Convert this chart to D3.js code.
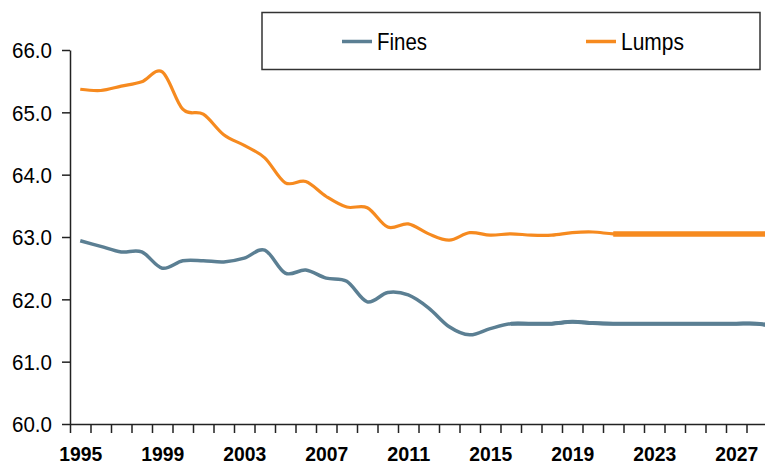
<!DOCTYPE html>
<html>
<head>
<meta charset="utf-8">
<script src="https://cdn.jsdelivr.net/npm/d3@7"></script>
<style>
  body { margin: 0; background: #fff; }
  svg { display: block; overflow: hidden; }
  text { font-family: "Liberation Sans", Arial, sans-serif; fill: #000; }
</style>
</head>
<body>
<svg id="chart" width="765" height="466"></svg>
<script>
// values
var years = d3.range(1995, 2030);
var fines = [62.94, 62.85, 62.76, 62.76, 62.50, 62.62, 62.62, 62.60, 62.66, 62.79,
             62.42, 62.47, 62.34, 62.29, 61.96, 62.11, 62.07, 61.86, 61.56, 61.43,
             61.53, 61.61, 61.61, 61.61, 61.64, 61.62, 61.61, 61.61, 61.61, 61.61,
             61.61, 61.61, 61.61, 61.61, 61.56];
var lumps = [65.37, 65.35, 65.42, 65.49, 65.65, 65.05, 64.97, 64.64, 64.47, 64.27,
             63.87, 63.89, 63.65, 63.48, 63.47, 63.16, 63.21, 63.05, 62.95, 63.07,
             63.03, 63.05, 63.03, 63.03, 63.07, 63.08, 63.05, 63.05, 63.05, 63.05,
             63.05, 63.05, 63.05, 63.05, 63.05];
var yTicks = [60, 61, 62, 63, 64, 65, 66];
var xLabels = [1995, 1999, 2003, 2007, 2011, 2015, 2019, 2023, 2027];
var seriesNames = ['Fines', 'Lumps'];
var fineForecastFrom = 2016;
var lumpForecastFrom = 2021;

var blue = '#5b7f93', orange = '#f68a1f';

var svg = d3.select('#chart');

// each year is a category slot of 20.5px, first slot starts at x=70
var x = d3.scaleLinear().domain([1994.5, 2030.5]).range([70, 70 + 36 * 20.5]);
var y = d3.scaleLinear().domain([60, 66]).range([424, 50]);

// y axis
var yAxis = svg.append('g').attr('transform', 'translate(70,0)')
  .call(d3.axisLeft(y).tickValues(yTicks).tickFormat(d3.format('.1f')).tickSize(8).tickSizeOuter(0));
yAxis.select('.domain').attr('stroke', '#222').attr('stroke-width', 1.5);
yAxis.selectAll('.tick line').attr('stroke', '#222').attr('stroke-width', 1.5);
yAxis.selectAll('.tick text').attr('x', -18).attr('dy', '0.35em')
  .attr('textLength', 40).attr('lengthAdjust', 'spacingAndGlyphs')
  .style('font-size', '22px').style('font-family', null);

// x axis: ticks on slot boundaries
var bounds = years.map(function(d){ return d - 0.5; }).concat([2029.5, 2030.5]);
var xAxis = svg.append('g').attr('transform', 'translate(0,424)')
  .call(d3.axisBottom(x).tickValues(bounds).tickFormat('').tickSize(9).tickSizeOuter(0));
xAxis.select('.domain').attr('stroke', '#222').attr('stroke-width', 1.5);
xAxis.selectAll('.tick line').attr('stroke', '#222').attr('stroke-width', 1.5);

// x labels centered in slots
var xLab = svg.append('g').attr('transform', 'translate(0,424)')
  .call(d3.axisBottom(x).tickValues(xLabels).tickFormat(d3.format('d')).tickSize(0));
xLab.select('.domain').remove();
xLab.selectAll('.tick text').attr('y', 37).attr('dy', 0)
  .attr('textLength', 43).attr('lengthAdjust', 'spacingAndGlyphs')
  .style('font-size', '21px').style('font-weight', 'bold').style('font-family', null);

// lines
var line = d3.line()
  .x(function(d){ return x(d[0]); })
  .y(function(d){ return y(d[1]); })
  .curve(d3.curveCatmullRom.alpha(0));

var finePts = years.map(function(d, i){ return [d, fines[i]]; });
var lumpPts = years.map(function(d, i){ return [d, lumps[i]]; });

svg.append('path').attr('d', line(finePts)).attr('fill', 'none')
  .attr('stroke', blue).attr('stroke-width', 3.5);
svg.append('path').attr('d', line(finePts.filter(function(d){ return d[0] >= fineForecastFrom; })))
  .attr('fill', 'none').attr('stroke', blue).attr('stroke-width', 4);

svg.append('path').attr('d', line(lumpPts)).attr('fill', 'none')
  .attr('stroke', orange).attr('stroke-width', 3.2);
svg.append('path').attr('d', line(lumpPts.filter(function(d){ return d[0] >= lumpForecastFrom; })))
  .attr('fill', 'none').attr('stroke', orange).attr('stroke-width', 5.5);

// legend
var lg = svg.append('g');
lg.append('rect').attr('x', 262).attr('y', 12.5).attr('width', 498).attr('height', 57)
  .attr('fill', '#fff').attr('stroke', '#333').attr('stroke-width', 1.5);
var legendX = [342, 586];
var legendW = [50, 63];
var legendColors = [blue, orange];
seriesNames.forEach(function(n, i){
  lg.append('line').attr('x1', legendX[i]).attr('x2', legendX[i] + 30)
    .attr('y1', 41.5).attr('y2', 41.5).attr('stroke', legendColors[i]).attr('stroke-width', 3.5);
  lg.append('text').attr('x', legendX[i] + 35).attr('y', 50)
    .attr('textLength', legendW[i]).attr('lengthAdjust', 'spacingAndGlyphs')
    .style('font-size', '24px').text(n);
});
</script>
</body>
</html>
